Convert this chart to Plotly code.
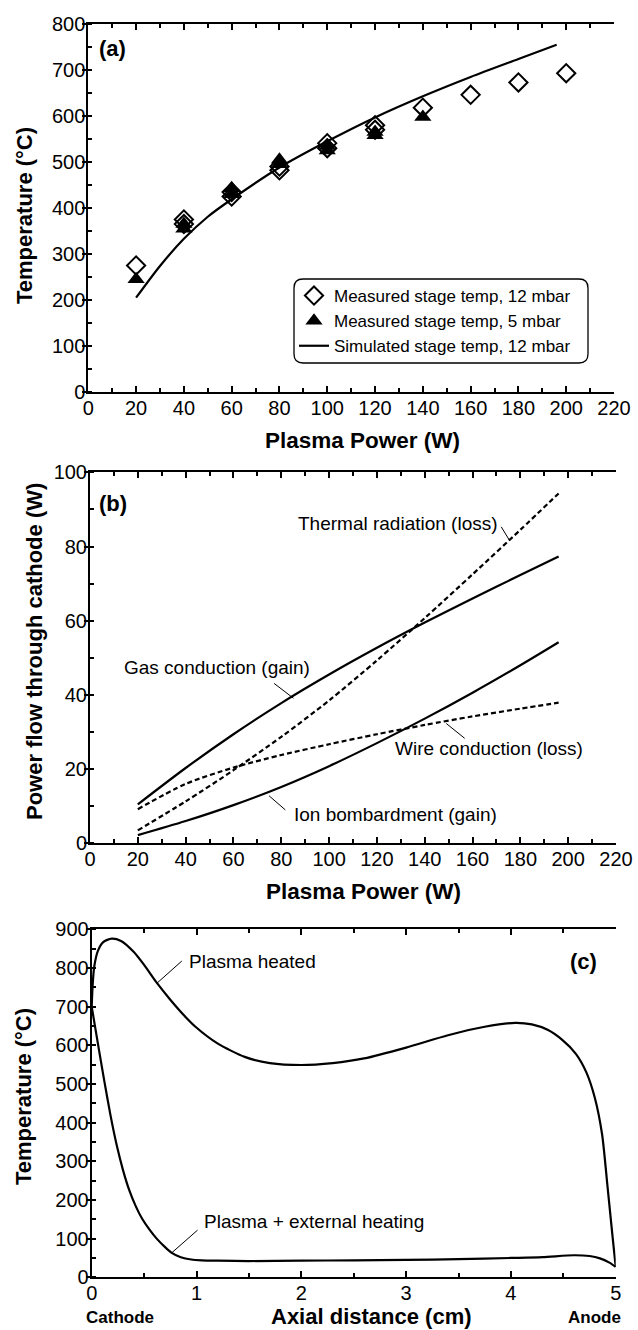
import plotly.graph_objects as go

# ---------------- data ----------------
# (a) stage temperature vs plasma power
meas12_power = [20, 40, 40, 60, 60, 80, 80, 100, 100, 120, 120, 140, 160, 180, 200]
meas12_temp = [275, 375, 365, 425, 435, 482, 490, 541, 530, 580, 570, 618, 646, 673, 693]
meas5_power = [20, 40, 40, 60, 60, 80, 80, 100, 100, 120, 120, 140]
meas5_temp = [245, 355, 365, 443, 430, 505, 495, 525, 535, 565, 558, 598]
sim_power = [20, 30, 40, 50, 60, 80, 100, 120, 140, 160, 180, 196]
sim_temp = [205, 274, 333, 381, 419, 488, 545, 597, 643, 685, 724, 755]

# (b) power flow through cathode
flow_power = [20, 40, 60, 80, 100, 120, 140, 160, 180, 196]
gas_cond = [10.5, 20.3, 29.4, 37.8, 45.5, 52.7, 59.5, 66.0, 72.3, 77.3]
ion_bomb = [2.2, 6.0, 10.3, 15.2, 20.8, 27.0, 33.6, 40.6, 48.0, 54.2]
thermal_rad = [3.5, 11.3, 19.7, 28.7, 38.5, 49.3, 60.7, 72.5, 84.5, 94.3]
wire_cond = [9.2, 16.0, 20.4, 23.8, 26.7, 29.4, 31.9, 34.2, 36.3, 37.9]

# (c) axial temperature profiles
heated_x = [0, 0.01, 0.025, 0.06, 0.11, 0.19, 0.28, 0.40, 0.50, 0.62, 0.75, 0.90, 0.99, 1.20, 1.46,
            1.70, 2.00, 2.30, 2.60, 3.00, 3.40, 3.75, 4.04, 4.20, 4.35, 4.49, 4.62, 4.72, 4.80, 4.87,
            4.92, 4.97, 5.00]
heated_T = [700, 760, 805, 845, 867, 876, 870, 842, 808, 762, 718, 672, 648, 605, 570,
            554, 549, 554, 566, 594, 626, 648, 658, 654, 640, 614, 578, 530, 465, 370,
            240, 105, 27]
ext_x = [0, 0.06, 0.12, 0.18, 0.24, 0.30, 0.36, 0.42, 0.48, 0.55, 0.62, 0.70, 0.76, 0.85, 0.95,
         1.05, 1.20, 1.50, 2.00, 2.50, 3.00, 3.50, 4.00, 4.30, 4.60, 4.75, 4.85, 4.94, 5.00]
ext_T = [700, 603, 508, 418, 340, 276, 224, 184, 152, 124, 100, 78, 64, 52, 46,
         44, 43, 42, 43, 44, 45, 47, 50, 52, 57, 55, 49, 38, 27]

power_ticks = list(range(0, 221, 20))
temp_ticks_a = list(range(0, 801, 100))
flow_ticks = list(range(0, 101, 20))
dist_ticks = [0, 1, 2, 3, 4, 5]
temp_ticks_c = list(range(0, 901, 100))

# ---------------- style ----------------
W, H = 638, 1330
FONT = "Arial, Liberation Sans, sans-serif"
TICKF = dict(family=FONT, size=20, color="black")
LW = 2.2


def px(v):
    return v / W


def py(v):
    return 1 - v / H


dom = {
    "a": dict(x=[px(88.3), px(614)], y=[py(392), py(24)]),
    "b": dict(x=[px(90), px(616)], y=[py(843.3), py(472.3)]),
    "c": dict(x=[px(91.7), px(615.7)], y=[py(1277.3), py(929.3)]),
}

fig = go.Figure()

# (a)
fig.add_trace(go.Scatter(x=meas12_power, y=meas12_temp, mode="markers", name="Measured stage temp, 12 mbar",
                         marker=dict(symbol="diamond-open", size=14, color="black", line=dict(width=2, color="black")),
                         xaxis="x", yaxis="y"))
fig.add_trace(go.Scatter(x=meas5_power, y=meas5_temp, mode="markers", name="Measured stage temp, 5 mbar",
                         marker=dict(symbol="triangle-up", size=15, color="black"),
                         xaxis="x", yaxis="y"))
fig.add_trace(go.Scatter(x=sim_power, y=sim_temp, mode="lines", name="Simulated stage temp, 12 mbar",
                         line=dict(color="black", width=LW, shape="spline", smoothing=0.8),
                         xaxis="x", yaxis="y"))

# (b)
for ys, dash in [(gas_cond, "solid"), (ion_bomb, "solid"), (thermal_rad, "5px,3px"), (wire_cond, "5px,3px")]:
    fig.add_trace(go.Scatter(x=flow_power, y=ys, mode="lines", showlegend=False,
                             line=dict(color="black", width=LW, dash=dash, shape="spline", smoothing=0.8),
                             xaxis="x3", yaxis="y3"))

# (c)
fig.add_trace(go.Scatter(x=heated_x, y=heated_T, mode="lines", showlegend=False,
                         line=dict(color="black", width=LW, shape="spline", smoothing=0.7),
                         xaxis="x5", yaxis="y5"))
fig.add_trace(go.Scatter(x=ext_x, y=ext_T, mode="lines", showlegend=False,
                         line=dict(color="black", width=LW, shape="spline", smoothing=0.7),
                         xaxis="x5", yaxis="y5"))


def xax(domain, anchor, rng, tickvals, minor_step):
    return dict(domain=domain, anchor=anchor, range=rng, tickvals=tickvals,
                ticks="inside", ticklen=6, tickwidth=1.5, tickcolor="black",
                minor=dict(dtick=minor_step, ticks="inside", ticklen=4, tickwidth=1.5, tickcolor="black", tick0=0),
                showline=True, linewidth=2, linecolor="black", mirror="ticks",
                showgrid=False, zeroline=False, tickfont=TICKF, automargin=False,
                ticklabelstandoff=-3)


def yax(domain, anchor, rng, tickvals, minor_step):
    return dict(domain=domain, anchor=anchor, range=rng, tickvals=tickvals,
                ticks="outside", ticklen=4, tickwidth=1.5, tickcolor="black",
                minor=dict(dtick=minor_step, ticks="inside", ticklen=4, tickwidth=1.5, tickcolor="black", tick0=0),
                showline=True, linewidth=2, linecolor="black",
                showgrid=False, zeroline=False, tickfont=TICKF, automargin=False,
                ticklabelstandoff=-7)


def yright(domain, anchor, overlay, rng, tickvals, minor_step):
    return dict(domain=domain, anchor=anchor, overlaying=overlay, side="right", range=rng,
                tickvals=tickvals, showticklabels=False,
                ticks="inside", ticklen=6, tickwidth=1.5, tickcolor="black",
                minor=dict(dtick=minor_step, ticks="inside", ticklen=4, tickwidth=1.5, tickcolor="black", tick0=0),
                showline=True, linewidth=2, linecolor="black",
                showgrid=False, zeroline=False, automargin=False)


layout = dict(
    width=W, height=H, margin=dict(l=0, r=0, t=0, b=0),
    paper_bgcolor="white", plot_bgcolor="white",
    font=dict(family=FONT, color="black"),
    showlegend=True,
    legend=dict(x=px(294), y=py(278), xanchor="left", yanchor="top",
                borderwidth=0, bgcolor="rgba(0,0,0,0)",
                font=dict(family=FONT, size=17, color="black"),
                itemwidth=30, tracegroupgap=0),
    xaxis=xax(dom["a"]["x"], "y", [0, 220], power_ticks, 10),
    yaxis=yax(dom["a"]["y"], "x", [0, 800], temp_ticks_a, 50),
    yaxis2=yright(dom["a"]["y"], "x", "y", [0, 800], temp_ticks_a, 50),
    xaxis3=xax(dom["b"]["x"], "y3", [0, 220], power_ticks, 10),
    yaxis3=yax(dom["b"]["y"], "x3", [0, 100], flow_ticks, 10),
    yaxis4=yright(dom["b"]["y"], "x3", "y3", [0, 100], flow_ticks, 10),
    xaxis5=xax(dom["c"]["x"], "y5", [0, 5], dist_ticks, 0.5),
    yaxis5=yax(dom["c"]["y"], "x5", [0, 900], temp_ticks_c, 50),
    yaxis6=yright(dom["c"]["y"], "x5", "y5", [0, 900], temp_ticks_c, 50),
)
fig.update_layout(**layout)

ann = []


def paper_text(text, x, y, size=22, bold=True, angle=0, xanchor="center"):
    ann.append(dict(text=f"<b>{text}</b>" if bold else text, x=px(x), y=py(y), xref="paper", yref="paper",
                    showarrow=False, xanchor=xanchor, yanchor="middle", textangle=angle,
                    font=dict(family=FONT, size=size, color="black")))


paper_text("Plasma Power (W)", 362, 441, size=22.5)
paper_text("Plasma Power (W)", 363, 891, size=22.5)
paper_text("Axial distance (cm)", 371, 1316, size=22)
paper_text("Temperature (°C)", 24, 216, angle=-90)
paper_text("Power flow through cathode (W)", 34, 652, angle=-90)
paper_text("Temperature (°C)", 23, 1097, angle=-90)
paper_text("Cathode", 84, 1317, size=17, xanchor="left")
paper_text("Anode", 623, 1317, size=17, xanchor="right")


def data_text(text, x, y, xr, yr, size=19, bold=False, xanchor="center"):
    ann.append(dict(text=f"<b>{text}</b>" if bold else text, x=x, y=y, xref=xr, yref=yr,
                    showarrow=False, xanchor=xanchor, yanchor="middle",
                    font=dict(family=FONT, size=size, color="black")))


data_text("(a)", 10, 746, "x", "y", size=22, bold=True)
data_text("(b)", 9.7, 91.7, "x3", "y3", size=22, bold=True)
data_text("(c)", 4.695, 816, "x5", "y5", size=22, bold=True)

data_text("Thermal radiation (loss)", 171.5, 86.3, "x3", "y3", xanchor="right")
data_text("Gas conduction (gain)", 53, 47.4, "x3", "y3")
data_text("Wire conduction (loss)", 166.9, 25.6, "x3", "y3")
data_text("Ion bombardment (gain)", 84.5, 7.8, "x3", "y3", xanchor="left")
data_text("Plasma heated", 0.91, 816, "x5", "y5", xanchor="left")
data_text("Plasma + external heating", 1.05, 144, "x5", "y5", xanchor="left")

shapes = []


def leader(x0, y0, x1, y1, xr, yr):
    shapes.append(dict(type="line", x0=x0, y0=y0, x1=x1, y1=y1, xref=xr, yref=yr,
                       line=dict(color="black", width=1)))


leader(172, 85.3, 175.5, 81.6, "x3", "y3")
leader(77, 43.1, 85.1, 39.1, "x3", "y3")
leader(156.7, 28.3, 149, 32.3, "x3", "y3")
leader(81.7, 9.0, 74.9, 12.8, "x3", "y3")
leader(0.86, 818, 0.62, 760, "x5", "y5")
leader(1.01, 122, 0.758, 62, "x5", "y5")

# rounded legend frame (pixel box converted to paper fractions)
bx0, bx1, by0, by1, r = 294, 588, 279, 363, 9
X = lambda v: f"{px(v):.5f}"
Y = lambda v: f"{py(v):.5f}"
path = (f"M {X(bx0 + r)} {Y(by0)} L {X(bx1 - r)} {Y(by0)} Q {X(bx1)} {Y(by0)} {X(bx1)} {Y(by0 + r)} "
        f"L {X(bx1)} {Y(by1 - r)} Q {X(bx1)} {Y(by1)} {X(bx1 - r)} {Y(by1)} "
        f"L {X(bx0 + r)} {Y(by1)} Q {X(bx0)} {Y(by1)} {X(bx0)} {Y(by1 - r)} "
        f"L {X(bx0)} {Y(by0 + r)} Q {X(bx0)} {Y(by0)} {X(bx0 + r)} {Y(by0)} Z")
shapes.append(dict(type="path", path=path, xref="paper", yref="paper", layer="above",
                   fillcolor="white", line=dict(color="black", width=1.3)))

fig.update_layout(annotations=ann, shapes=shapes)
fig.write_html("out.html",
               config={"displayModeBar": False},
               post_script="document.body.style.margin='0';document.body.style.overflow='hidden';")
